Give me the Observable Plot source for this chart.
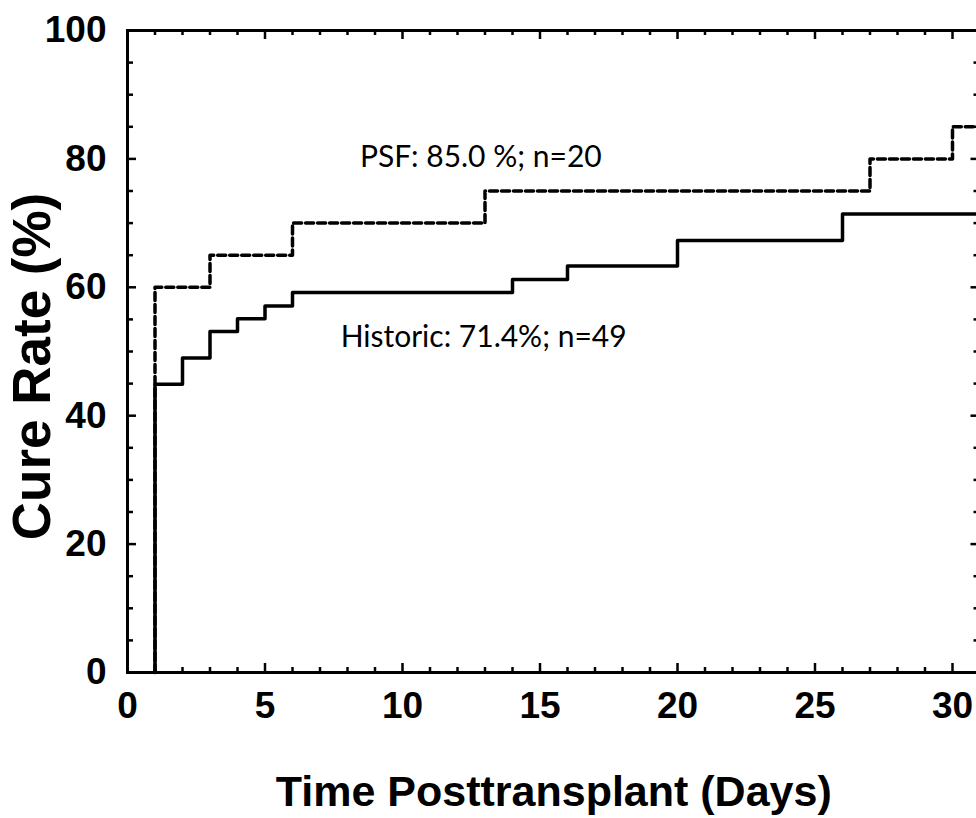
<!DOCTYPE html>
<html>
<head>
<meta charset="utf-8">
<script src="https://cdn.jsdelivr.net/npm/d3@7"></script>
<script src="https://cdn.jsdelivr.net/npm/@observablehq/plot@0.6"></script>
<style>
  html, body { margin: 0; padding: 0; background: #fff; overflow: hidden; }
</style>
</head>
<body>
<div id="chart"></div>
<script>
// ---- data ----
const historicDays = [1, 1, 2, 3, 4, 5, 6, 14, 16, 20, 26, 31];
const historicRate = [0, 44.9, 49.0, 53.1, 55.1, 57.1, 59.2, 61.2, 63.3, 67.3, 71.4, 71.4];
const psfDays = [1, 1, 3, 6, 13, 27, 30, 31];
const psfRate = [0, 60, 65, 70, 75, 80, 85, 85];
const xTickLabels = [0, 5, 10, 15, 20, 25, 30];
const yTickLabels = [0, 20, 40, 60, 80, 100];
const labelTexts = ["PSF: 85.0 %; n=20", "Historic: 71.4%; n=49"];
const labelDays = [12.85, 12.95];
const labelValues = [80.2, 52.2];

// ---- tables ----
const historic = historicDays.map((d, i) => ({day: d, rate: historicRate[i]}));
const psf = psfDays.map((d, i) => ({day: d, rate: psfRate[i]}));
const labels = labelTexts.map((t, i) => ({text: t, day: labelDays[i], value: labelValues[i]}));
const xMinor = d3.range(0, 32, 1).filter(d => d % 5 !== 0);
const xMajor = d3.range(0, 32, 5);
const yMinor = d3.range(0, 101, 5).filter(d => d % 20 !== 0);
const yMajor = d3.range(0, 101, 20);

// ---- layout ----
const W = 982, H = 818, mL = 127, mR = 2.5, mT = 30, mB = 146;
const fw = W - mL - mR, fh = H - mT - mB;

const bold = {fontFamily: "'Liberation Sans', Arial, sans-serif", fontWeight: "bold", fill: "black"};

const chart = Plot.plot({
  width: W, height: H,
  marginLeft: mL, marginRight: mR, marginTop: mT, marginBottom: mB,
  x: {domain: [0, 31], label: null},
  y: {domain: [0, 100], label: null},
  style: {maxWidth: "none", background: "white", color: "black", overflow: "hidden"},
  marks: [
    Plot.line(psf, {x: "day", y: "rate", curve: "step-after", stroke: "black", strokeWidth: 3.5, strokeDasharray: "8,4"}),
    Plot.line(historic, {x: "day", y: "rate", curve: "step-after", stroke: "black", strokeWidth: 3.5}),
    // inward ticks: bottom
    Plot.tickX(xMinor, {x: d => d, insetTop: fh - 5, stroke: "black", strokeWidth: 2.5}),
    Plot.tickX(xMajor, {x: d => d, insetTop: fh - 9, stroke: "black", strokeWidth: 2.5}),
    // top
    Plot.tickX(xMinor, {x: d => d, insetBottom: fh - 5, stroke: "black", strokeWidth: 2.5}),
    Plot.tickX(xMajor, {x: d => d, insetBottom: fh - 9, stroke: "black", strokeWidth: 2.5}),
    // left
    Plot.tickY(yMinor, {y: d => d, insetRight: fw - 6, stroke: "black", strokeWidth: 2.5}),
    Plot.tickY(yMajor, {y: d => d, insetRight: fw - 9, stroke: "black", strokeWidth: 2.5}),
    // right
    Plot.tickY(yMinor, {y: d => d, insetLeft: fw - 6, stroke: "black", strokeWidth: 2.5}),
    Plot.tickY(yMajor, {y: d => d, insetLeft: fw - 9, stroke: "black", strokeWidth: 2.5}),
    Plot.frame({stroke: "black", strokeWidth: 3}),
    Plot.axisX({anchor: "bottom", ticks: xTickLabels, tickSize: 0, tickPadding: 19, fontSize: 37, label: null, ...bold}),
    Plot.axisY({anchor: "left", ticks: yTickLabels, tickSize: 0, tickPadding: 21, fontSize: 37, label: null, ...bold}),
    Plot.text(["Cure Rate (%)"], {frameAnchor: "left", rotate: -90, dx: -94, dy: 15, textAnchor: "middle", lineAnchor: "middle", fontSize: 53, ...bold}),
    Plot.text(["Time Posttransplant (Days)"], {frameAnchor: "bottom", dy: 120, textAnchor: "middle", lineAnchor: "middle", fontSize: 43, ...bold}),
    Plot.text(labels, {x: "day", y: "value", text: "text", fontFamily: "Lato, 'Noto Sans', sans-serif", fontSize: 30, fill: "black", textAnchor: "middle", lineAnchor: "middle"})
  ]
});
document.getElementById("chart").appendChild(chart);
</script>
</body>
</html>
